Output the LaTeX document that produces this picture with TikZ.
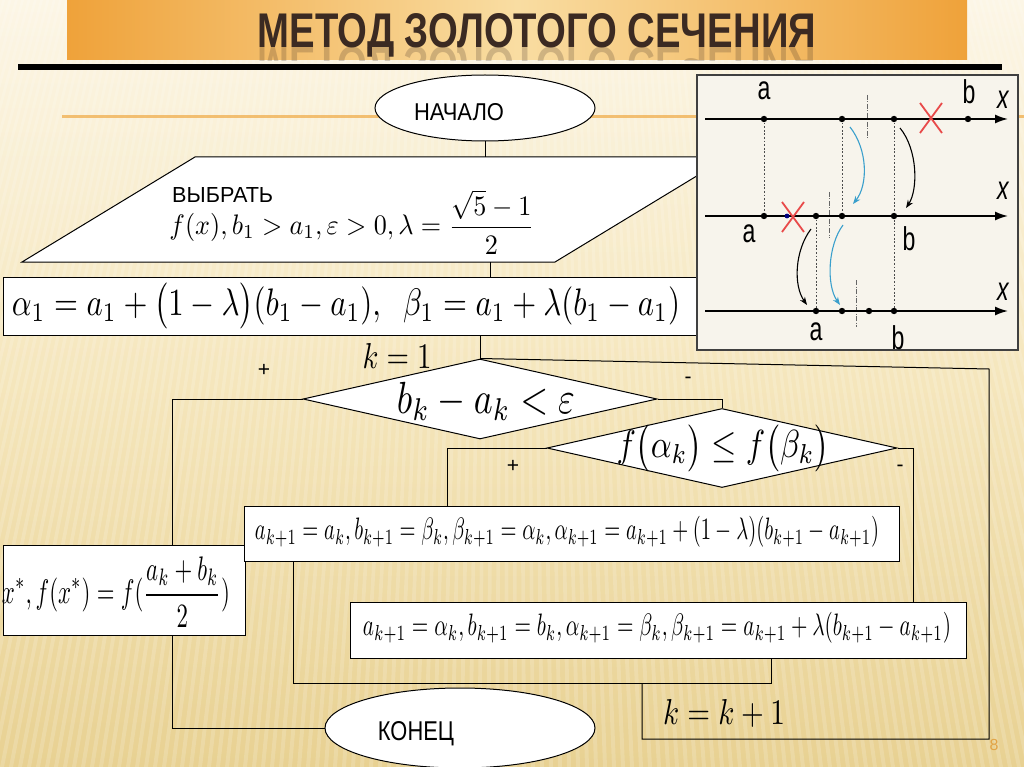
\documentclass[tikz,border=0pt]{standalone}
\usepackage{amsmath}
\usepackage{graphicx}
\usepackage{fontspec}
\setmainfont{Liberation Sans}
\usepackage{tikz}
\usetikzlibrary{shapes.geometric,positioning,calc,arrows.meta}

\definecolor{bgtop}{HTML}{FCF6E6}
\definecolor{bgmid}{HTML}{F5E6BC}
\definecolor{bgbot}{HTML}{E8D192}
\definecolor{baredge}{HTML}{EFA23A}
\definecolor{barmid}{HTML}{F9DDA2}
\definecolor{titlebrown}{HTML}{3B2A22}
\definecolor{lineorange}{HTML}{F0B256}
\definecolor{panelbg}{HTML}{F7F4EC}
\definecolor{arrblue}{HTML}{3A9FCC}
\definecolor{crossred}{HTML}{E84A4A}
\definecolor{pagenum}{HTML}{E2A446}

\newcommand{\fitto}[3]{\resizebox*{#1pt}{#2pt}{#3}}
\newcommand{\capto}[3]{\resizebox{#1pt}{#2pt}{#3}}
\newcommand{\narrow}[1]{\scalebox{0.7}[1]{#1}}

\begin{document}
\begin{tikzpicture}[x=1pt,y=-1pt,>=latex,
	block/.style={draw,fill=white,line width=1pt,inner sep=0pt},
	term/.style={block,ellipse},
	decision/.style={block,diamond},
	conn/.style={line width=1pt},
	branchsign/.style={font=\fontsize{21}{21}\selectfont,inner sep=0pt},
	numaxis/.style={line width=1.6pt,-{Latex[length=13pt,width=9pt]}},
	dotline/.style={line width=0.8pt,black!70,dash pattern=on 1.8pt off 1.8pt},
	dashdotline/.style={line width=0.7pt,black!60,dash pattern=on 5pt off 1.5pt on 1pt off 1.5pt},
	redcross/.style={line width=1.8pt,crossred},
	swing/.style={line width=1.1pt,-{Stealth[length=8pt,width=6pt]}},
	lbl/.style={font=\fontsize{33}{33}\selectfont,anchor=base,inner sep=0pt}]
	\useasboundingbox (0,0) rectangle (1024,767);
	% background
	\shade[top color=bgtop,bottom color=bgbot,middle color=bgmid] (0,0) rectangle (1024,767);
	\begin{scope}
		\clip (0,0) rectangle (1024,767);
		\foreach \i in {-25,...,140}{\fill[white,opacity=0.16] ({\i*9},767) -- ({\i*9+4},767) -- ({512+(\i*9+4-512)*0.7},0) -- ({512+(\i*9-512)*0.7},0) -- cycle;}
	\end{scope}
	\draw[line width=3pt,lineorange,opacity=0.8] (62,116.5) -- (1024,116.5);
	% title
	\shade[left color=baredge,right color=baredge,middle color=barmid] (67,0) rectangle (967,60);
	\node[anchor=base,text=titlebrown] (title) at (537,48) {\capto{558}{34}{\bfseries МЕТОД ЗОЛОТОГО СЕЧЕНИЯ}};
	\begin{scope}
		\clip (67,48) rectangle (967,61);
		\node[anchor=base,text=titlebrown,opacity=0.22] (titleecho) at (537,48) {\scalebox{1}[-1]{\capto{558}{34}{\bfseries МЕТОД ЗОЛОТОГО СЕЧЕНИЯ}}};
	\end{scope}
	\fill (18,64) rectangle (1002,70);

	% flowchart
	\node[term,minimum width=220,minimum height=66] (start) at (485,108) {};
	\node[anchor=base] (startT) at (459,121) {\capto{90}{17}{НАЧАЛО}};

	\coordinate (inSW) at (22,262);
	\coordinate (inSE) at (555,262);
	\coordinate (inNE) at (728,157);
	\coordinate (inNW) at (195,157);
	\draw[block] (inSW) -- (inSE) -- (inNE) -- (inNW) -- cycle;
	\node[anchor=base west,inner sep=0pt] (inT1) at (172,203) {\capto{101}{15}{ВЫБРАТЬ}};
	\node (inT2) at (352,222) {\fitto{365}{64}{$\displaystyle f(x), b_1 > a_1, \varepsilon > 0, \lambda = \frac{\sqrt{5}-1}{2}$}};
	\draw[conn] (start.south) -- (start.south |- inNW);

	\node[block,minimum width=694,minimum height=58] (init) at (350,306) {};
	\node (initT) at (346,306) {\fitto{668}{46}{$\alpha_1 = a_1 + \bigl(1-\lambda\bigr)(b_1-a_1),\ \ \beta_1 = a_1 + \lambda(b_1-a_1)$}};
	\coordinate (inS) at (490,262);
	\draw[conn] (inS) -- (inS |- init.north);

	\node[decision,minimum width=354,minimum height=80] (cond1) at (480,399) {};
	\node (cond1T) at (486,401) {\fitto{178}{38}{$b_k - a_k < \varepsilon$}};
	\node (kinit) at (397,356) {\fitto{69}{25}{$k = 1$}};
	\draw[conn] (cond1.north |- init.south) -- (cond1.north);

	\node[decision,minimum width=350,minimum height=79] (cond2) at (722,448) {};
	\node (cond2T) at (723,448) {\fitto{213}{47}{$f\bigl(\alpha_k\bigr) \le f\bigl(\beta_k\bigr)$}};

	\node[block,minimum width=242,minimum height=90] (xres) at (124,590) {};
	\node (xresT) at (116,592) {\fitto{228}{70}{$\displaystyle x^*, f(x^*) = f(\frac{a_k+b_k}{2})$}};

	\node[block,minimum width=655,minimum height=55] (upd1) at (572,534) {};
	\node (upd1T) at (567,532) {\fitto{624}{31}{$a_{k+1} = a_k, b_{k+1} = \beta_k, \beta_{k+1} = \alpha_k, \alpha_{k+1} = a_{k+1} + (1-\lambda)(b_{k+1} - a_{k+1})$}};

	\node[block,minimum width=616,minimum height=56] (upd2) at (658,630) {};
	\node (upd2T) at (657,628) {\fitto{588}{31}{$a_{k+1} = \alpha_k, b_{k+1} = b_k, \alpha_{k+1} = \beta_k, \beta_{k+1} = a_{k+1} + \lambda(b_{k+1} - a_{k+1})$}};

	\node[term,minimum width=270,minimum height=80] (stop) at (460,728) {};
	\node[anchor=base] (stopT) at (416,740) {\capto{76}{19}{КОНЕЦ}};

	\node (inc) at (724,713) {\fitto{122}{28}{$k = k + 1$}};

	\node[branchsign] (plus1) at (264,370) {+};
	\node[branchsign] (minus1) at (688,380) {-};
	\node[branchsign] (plus2) at (513,466) {+};
	\node[branchsign] (minus2) at (900,468) {-};

	% connectors
	\draw[conn] (cond1.west) -- (172,399) coordinate (yesL) -- (yesL |- xres.north);
	\draw[conn] (yesL |- xres.south) |- (stop.west);
	\draw[conn] (cond1.east) -| (cond2.north);
	\draw[conn] (cond2.west) -- (447,448) coordinate (yesR) -- (yesR |- upd1.north);
	\draw[conn] (cond2.east) -- (913,448) coordinate (noR) -- (noR |- upd2.north);
	\coordinate (joinL) at (293,683);
	\coordinate (joinR) at (771,683);
	\draw[conn] (joinL |- upd1.south) -- (joinL) -- (joinR) -- (joinR |- upd2.south);
	\coordinate (loopA) at (642,683);
	\draw[conn] (loopA) |- (989,739) coordinate (loopB) -- (989,369) coordinate (loopC) -- (cond1.north);

	% picture of the section
	\filldraw[fill=panelbg,draw=black!75,line width=1.5pt] (697,75) rectangle (1018,350);
	\foreach \x/\ya/\yb in {764/119/216, 842/119/216, 894/119/311, 816/216/311}{\draw[dotline] (\x,\ya) -- (\x,\yb);}
	\foreach \x/\ya/\yb in {867/95/140, 829/192/238, 856/280/327}{\draw[dashdotline] (\x,\ya) -- (\x,\yb);}
	\foreach \y in {119,216,311}{\draw[numaxis] (705,\y) -- (1008,\y);}
	\foreach \x/\y in {764/119, 842/119, 894/119, 968/119, 764/216, 816/216, 842/216, 894/216, 816/311, 842/311, 869/311, 894/311}{\fill (\x,\y) circle (3.2pt);}
	\fill[blue!50!black] (787,216) circle (2.4pt);
	\foreach \x/\y in {931/118, 793/217}{\draw[redcross] (\x-11,\y-15) -- (\x+11,\y+15) (\x-11,\y+15) -- (\x+11,\y-15);}
	\foreach \x/\y/\t [count=\n] in {764/100/a, 969/104/b, 1003/109/{\itshape x}, 749/242/a, 909/250/b, 1003/200/{\itshape x}, 816/340/a, 898/349/b, 1003/300/{\itshape x}}
	{\node[lbl] (lab\n) at (\x,\y) {\narrow{\t}};}
	\draw[swing,arrblue] (850,127) .. controls (868,150) and (868,185) .. (853,204);
	\draw[swing] (900,128) .. controls (918,150) and (918,190) .. (906,208);
	\draw[swing] (811,229) .. controls (795,250) and (793,285) .. (807,305);
	\draw[swing,arrblue] (843,225) .. controls (828,245) and (826,285) .. (840,305);

	\node[text=pagenum,font=\fontsize{16}{16}\selectfont] (pageno) at (994,745) {8};
\end{tikzpicture}
\end{document}
